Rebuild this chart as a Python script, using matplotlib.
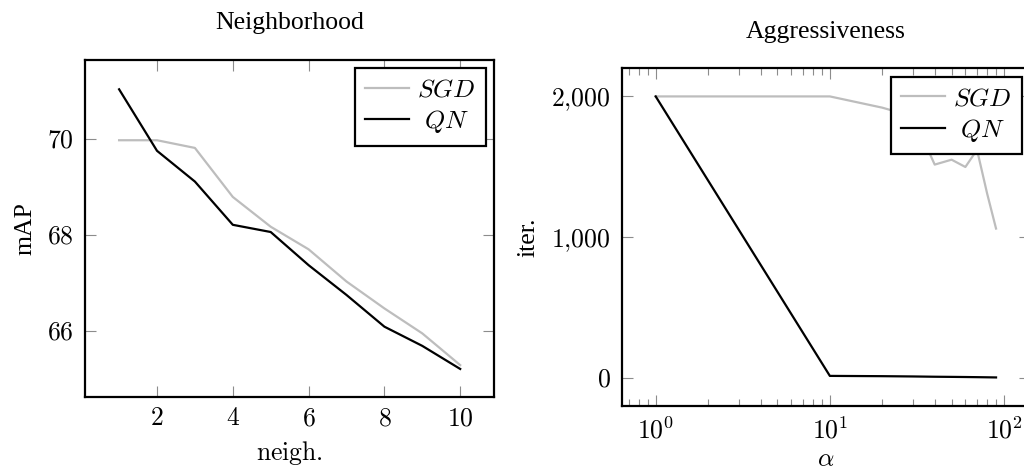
import matplotlib
matplotlib.use("Agg")
import matplotlib.pyplot as plt
from matplotlib.ticker import FixedLocator, FixedFormatter, LogLocator, NullFormatter

plt.rcParams['mathtext.fontset'] = 'cm'
plt.rcParams['font.family'] = ['Liberation Serif', 'DejaVu Serif']

# Datos: Neighborhood
vecinos = [1, 2, 3, 4, 5, 6, 7, 8, 9, 10]
sgd_map = [69.97, 69.97, 69.81, 68.79, 68.17, 67.70, 67.03, 66.47, 65.95, 65.29]
qn_map = [71.03, 69.75, 69.11, 68.21, 68.06, 67.37, 66.75, 66.09, 65.69, 65.21]

# Datos: Aggressiveness
alphas = [1, 10, 20, 30, 40, 50, 60, 70, 80, 90]
sgd_iter = [2000, 2000, 1920, 1857, 1515, 1550, 1498, 1620, 1309, 1060]
qn_iter = [2000, 12, 10, 8, 6, 5, 4, 3, 2, 1]

# QN va centrado bajo SGD en la leyenda original
etiquetas = [r'$SGD$', r'$\ QN$']
color_sgd = '#bdbdbd'
color_qn = 'black'
fs = 18.5

fig = plt.figure(figsize=(10.24, 4.71), dpi=100)
W, H = 1024, 471

def caja(x0, y0, x1, y1):
    return [x0 / W, 1 - y1 / H, (x1 - x0) / W, (y1 - y0) / H]

ax1 = fig.add_axes(caja(85, 60, 494.3, 397.3))
ax2 = fig.add_axes(caja(621.7, 68.3, 1030, 405.7))

def estilo(ax):
    for s in ax.spines.values():
        s.set_linewidth(1.6)
    ax.tick_params(which='both', direction='in', top=True, right=True,
                   color='#8c8c8c', width=0.8, labelsize=fs, pad=8)
    ax.tick_params(which='major', length=8)
    ax.tick_params(which='minor', length=5.3)

# Panel izquierdo
ax1.plot(vecinos, sgd_map, color=color_sgd, lw=1.6, label=etiquetas[0])
ax1.plot(vecinos, qn_map, color=color_qn, lw=1.6, label=etiquetas[1])
ax1.set_xlim(0.1, 10.9)
ax1.set_ylim(64.62, 71.64)
xt = [2, 4, 6, 8, 10]
yt = [66, 68, 70]
ax1.xaxis.set_major_locator(FixedLocator(xt))
ax1.xaxis.set_major_formatter(FixedFormatter([f'${v}$' for v in xt]))
ax1.yaxis.set_major_locator(FixedLocator(yt))
ax1.yaxis.set_major_formatter(FixedFormatter([f'${v}$' for v in yt]))
estilo(ax1)
ax1.set_title('Neighborhood', fontsize=fs, pad=22.5)
ax1.set_xlabel(r'$\mathrm{neigh.}$', fontsize=fs, labelpad=6)
ax1.set_ylabel('mAP', fontsize=fs, labelpad=8)

# Panel derecho
ax2.plot(alphas, sgd_iter, color=color_sgd, lw=1.6, label=etiquetas[0])
ax2.plot(alphas, qn_iter, color=color_qn, lw=1.6, label=etiquetas[1])
ax2.set_xscale('log')
ax2.set_xlim(0.638, 141)
ax2.set_ylim(-200, 2200)
ax2.xaxis.set_major_locator(FixedLocator([1, 10, 100]))
ax2.xaxis.set_major_formatter(FixedFormatter([r'$10^{0}$', r'$10^{1}$', r'$10^{2}$']))
ax2.xaxis.set_minor_locator(LogLocator(base=10, subs=range(2, 10)))
ax2.xaxis.set_minor_formatter(NullFormatter())
yt2 = [0, 1000, 2000]
ax2.yaxis.set_major_locator(FixedLocator(yt2))
ax2.yaxis.set_major_formatter(FixedFormatter(['$0$', '$1{,}000$', '$2{,}000$']))
estilo(ax2)
ax2.tick_params(axis='y', which='minor', left=False, right=False)
ax2.set_title('Aggressiveness', fontsize=fs, pad=21.5)
ax2.set_xlabel(r'$\alpha$', fontsize=fs, labelpad=4)
ax2.set_ylabel('iter.', fontsize=fs, labelpad=8)

for ax in (ax1, ax2):
    leg = ax.legend(loc='upper right', fontsize=fs, frameon=True, fancybox=False,
                    framealpha=1, edgecolor='black', borderaxespad=0.33,
                    handlelength=1.7, handletextpad=0.3, borderpad=0.4,
                    labelspacing=0.26)
    leg.get_frame().set_linewidth(1.6)

fig.savefig('out.png', dpi=100)
